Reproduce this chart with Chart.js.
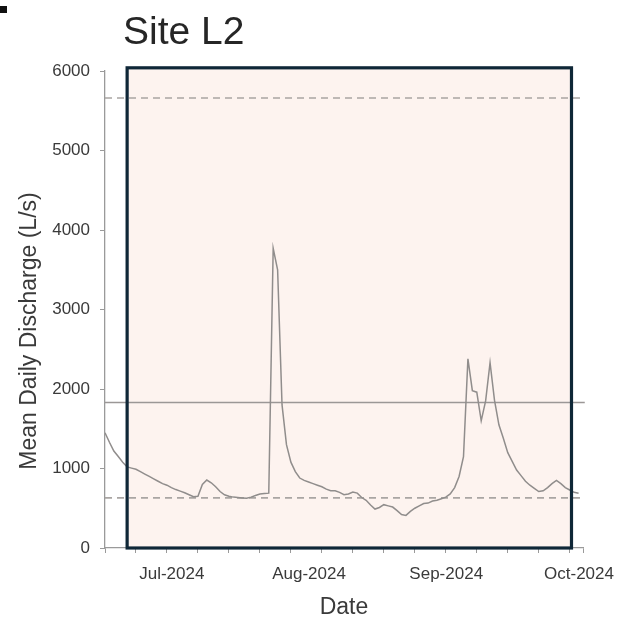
<!DOCTYPE html>
<html><head><meta charset="utf-8">
<script src="https://cdn.jsdelivr.net/npm/chart.js@4.4.1/dist/chart.umd.min.js"></script>
<style>html,body{margin:0;padding:0;background:#fff;}#wrap{width:619px;height:622px;position:relative;}</style>
</head><body><div id="wrap"><canvas id="c" width="619" height="622"></canvas></div>
<script>
// Day index 0 = 15 Jun 2024
const chartTitle = 'Site L2';
const yAxisTitle = 'Mean Daily Discharge (L/s)';
const xAxisTitle = 'Date';
const discharge = [1450,1330,1220,1150,1080,1020,1005,990,960,930,
  900,870,840,810,790,760,735,715,695,670,
  645,650,800,855,820,770,710,670,650,640,
  635,630,625,640,660,680,685,690,3770,3500,
  1800,1300,1080,960,880,850,830,810,790,770,
  740,720,720,700,670,680,705,690,635,600,
  540,490,510,545,530,515,470,420,410,460,
  500,530,560,565,590,600,620,640,680,760,
  900,1150,2380,1980,1960,1600,1850,2330,1860,1550,
  1380,1200,1090,980,910,840,790,750,710,720,
  760,810,850,810,760,730,700,690];
const monthTickDays = [16, 47, 78, 108];
const monthTickLabels = ['Jul-2024', 'Aug-2024', 'Sep-2024', 'Oct-2024'];
const weekTickDays = [0, 7, 14, 21, 28, 35, 42, 49, 56, 63, 70, 77, 84, 91, 98, 105, 108];
const refValues = [5660, 1830, 630];
const refDashed = [true, false, true];
const refSpan = [0, 108.4];
const highlightDays = [5, 105.4];
const highlightRange = [0, 6040];
const xRange = [0, 108];
const yRange = [0, 6000];

const FONT = '"Liberation Sans", Arial, sans-serif';
const lineData = discharge.map((v, i) => ({x: i, y: v}));
const refSets = refValues.map((v, k) => ({
  data: [{x: refSpan[0], y: v}, {x: refSpan[1], y: v}],
  borderColor: refDashed[k] ? '#a9a5a3' : '#9b9796',
  borderWidth: 1.6,
  borderDash: refDashed[k] ? [7, 5] : [],
  pointRadius: 0,
  clip: false,
  order: 2
}));

const boxPlugin = {
  id: 'boxPlugin',
  beforeDatasetsDraw(chart) {
    const {ctx, scales: {x, y}} = chart;
    const l = x.getPixelForValue(highlightDays[0]), r = x.getPixelForValue(highlightDays[1]);
    const t = y.getPixelForValue(highlightRange[1]), b = y.getPixelForValue(highlightRange[0]);
    ctx.save();
    ctx.fillStyle = '#fdf3ef';
    ctx.fillRect(l, t, r - l, b - t);
    ctx.restore();
  },
  afterDatasetsDraw(chart) {
    const {ctx, scales: {x, y}} = chart;
    const l = x.getPixelForValue(highlightDays[0]), r = x.getPixelForValue(highlightDays[1]);
    const t = y.getPixelForValue(highlightRange[1]), b = y.getPixelForValue(highlightRange[0]);
    ctx.save();
    ctx.strokeStyle = '#0f2737';
    ctx.lineWidth = 3.2;
    ctx.strokeRect(l, t, r - l, b - t);
    ctx.restore();
  },
  afterDraw(chart) {
    const {ctx, chartArea} = chart;
    ctx.save();
    ctx.fillStyle = '#111';
    ctx.fillRect(0, 6, 7, 7);
    ctx.fillStyle = '#262626';
    ctx.font = '39px ' + FONT;
    ctx.textBaseline = 'alphabetic';
    ctx.textAlign = 'left';
    ctx.fillText(chartTitle, chartArea.left + 18, 44);
    ctx.fillStyle = '#3a3a3a';
    ctx.font = '23px ' + FONT;
    ctx.textAlign = 'center';
    ctx.textBaseline = 'middle';
    ctx.translate(chartArea.left - 75, 331);
    ctx.rotate(-Math.PI / 2);
    ctx.fillText(yAxisTitle, 0, 0);
    ctx.restore();
  }
};

new Chart(document.getElementById('c'), {
  type: 'line',
  data: {
    datasets: [{
      data: lineData,
      borderColor: '#908d8c',
      borderWidth: 1.5,
      pointRadius: 0,
      tension: 0,
      order: 1
    }, ...refSets]
  },
  options: {
    responsive: false,
    animation: false,
    layout: {padding: {left: 0, top: 71, right: 36, bottom: 0}},
    plugins: {legend: {display: false}, tooltip: {enabled: false}},
    scales: {
      x: {
        type: 'linear', min: xRange[0], max: xRange[1],
        afterFit(s) { s.height = 74; s.paddingLeft = 0; s.paddingRight = 0; },
        afterBuildTicks(s) {
          const all = Array.from(new Set([...weekTickDays, ...monthTickDays])).sort((a, b) => a - b);
          s.ticks = all.map(v => ({value: v}));
        },
        ticks: {
          autoSkip: false, maxRotation: 0, padding: 11, labelOffset: -4,
          color: '#3a3a3a',
          font: {family: FONT, size: 17},
          callback(v) { const k = monthTickDays.indexOf(v); return k >= 0 ? monthTickLabels[k] : ''; }
        },
        grid: {
          drawOnChartArea: false, drawTicks: true, tickLength: 5,
          tickColor: (c) => weekTickDays.includes(c.tick && c.tick.value) ? '#9a9a9a' : 'rgba(0,0,0,0)'
        },
        border: {color: '#9a9a9a', width: 1.3},
        title: {display: true, text: xAxisTitle, color: '#3a3a3a', padding: {top: 4, bottom: 1},
          font: {family: FONT, size: 23}}
      },
      y: {
        min: yRange[0], max: yRange[1],
        afterFit(s) { s.width = 105; s.paddingTop = 0; s.paddingBottom = 0; },
        ticks: {
          stepSize: 1000, padding: 10, color: '#3a3a3a',
          font: {family: FONT, size: 17},
          callback(v) { return String(v); }
        },
        grid: {drawOnChartArea: false, drawTicks: true, tickLength: 5, tickColor: '#9a9a9a'},
        border: {color: '#9a9a9a', width: 1.3},
        title: {display: false}
      }
    }
  },
  plugins: [boxPlugin]
});
</script></body></html>
